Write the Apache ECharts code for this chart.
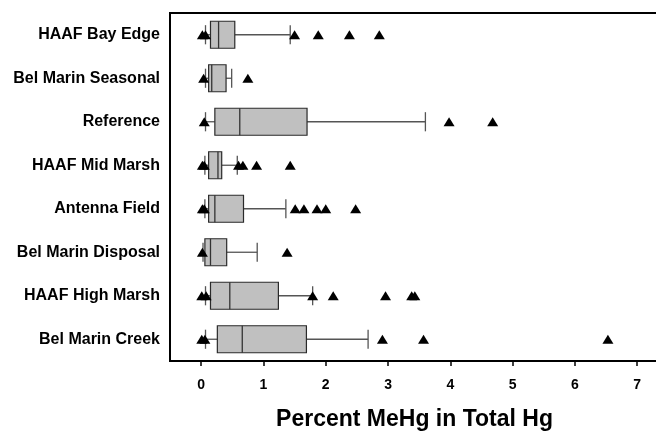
<!DOCTYPE html>
<html>
<head>
<meta charset="utf-8">
<script src="https://cdn.jsdelivr.net/npm/echarts@6/dist/echarts.min.js"></script>
<style>
  html, body { margin: 0; padding: 0; background: #fff; }
  #chart { width: 656px; height: 431px; }
</style>
</head>
<body>
<div id="chart"></div>
<script>
// Sites, top to bottom
const categories = [
  'HAAF Bay Edge', 'Bel Marin Seasonal', 'Reference', 'HAAF Mid Marsh',
  'Antenna Field', 'Bel Marin Disposal', 'HAAF High Marsh', 'Bel Marin Creek'
];

// Box statistics per site: [lower whisker, Q1, median, Q3, upper whisker]
const boxStats = [
  [0.07, 0.15, 0.28, 0.54, 1.43],
  [0.07, 0.12, 0.17, 0.40, 0.49],
  [0.07, 0.22, 0.62, 1.70, 3.60],
  [0.06, 0.12, 0.27, 0.33, 0.58],
  [0.06, 0.12, 0.22, 0.68, 1.36],
  [0.03, 0.06, 0.15, 0.41, 0.90],
  [0.07, 0.15, 0.46, 1.24, 1.79],
  [0.07, 0.26, 0.66, 1.69, 2.68]
];

// Points beyond the whiskers, per site
const outliers = [
  [0.02, 0.07, 1.50, 1.88, 2.38, 2.86],
  [0.04, 0.75],
  [0.05, 3.98, 4.68],
  [0.02, 0.05, 0.60, 0.67, 0.89, 1.43],
  [0.02, 0.05, 1.51, 1.65, 1.86, 2.00, 2.48],
  [0.02, 1.38],
  [0.01, 0.08, 1.79, 2.12, 2.96, 3.38, 3.43],
  [0.01, 0.06, 2.91, 3.57, 6.53]
];

const xTicks = [0, 1, 2, 3, 4, 5, 6, 7];

const boxData = boxStats.map((s, i) => [i].concat(s));
const outlierData = [];
outliers.forEach((vals, i) => vals.forEach(v => outlierData.push([v, i])));

function renderBox(params, api) {
  const cat = api.value(0);
  const low = api.coord([api.value(1), cat]);
  const q1 = api.coord([api.value(2), cat]);
  const med = api.coord([api.value(3), cat]);
  const q3 = api.coord([api.value(4), cat]);
  const high = api.coord([api.value(5), cat]);
  const band = api.size([0, 1])[1];
  const boxH = band * 0.62;
  const capH = band * 0.44;
  const y = low[1];
  const whisker = { stroke: '#555', lineWidth: 1.3 };
  return {
    type: 'group',
    children: [
      { type: 'line', shape: { x1: low[0], y1: y, x2: q1[0], y2: y }, style: whisker },
      { type: 'line', shape: { x1: q3[0], y1: y, x2: high[0], y2: y }, style: whisker },
      { type: 'line', shape: { x1: low[0], y1: y - capH / 2, x2: low[0], y2: y + capH / 2 }, style: whisker },
      { type: 'line', shape: { x1: high[0], y1: y - capH / 2, x2: high[0], y2: y + capH / 2 }, style: whisker },
      { type: 'rect', shape: { x: q1[0], y: y - boxH / 2, width: q3[0] - q1[0], height: boxH },
        style: { fill: '#c0c0c0', stroke: '#2a2a2a', lineWidth: 1.2 } },
      { type: 'line', shape: { x1: med[0], y1: y - boxH / 2, x2: med[0], y2: y + boxH / 2 },
        style: { stroke: '#333', lineWidth: 1.3 } }
    ]
  };
}

const chart = echarts.init(document.getElementById('chart'), null, { renderer: 'canvas' });
chart.setOption({
  animation: false,
  backgroundColor: '#fff',
  grid: {
    left: 170, top: 13, bottom: 70, right: -3,
    outerBoundsMode: 'none',
    containLabel: false,
    show: true, borderColor: '#000', borderWidth: 2, backgroundColor: 'transparent'
  },
  xAxis: {
    type: 'value',
    min: -0.5,
    max: 7.35,
    name: 'Percent MeHg in Total Hg',
    nameLocation: 'middle',
    nameGap: 47,
    nameTextStyle: { fontFamily: 'Liberation Sans', fontWeight: 'bold', fontSize: 23, color: '#000' },
    axisLine: { show: true, onZero: false, lineStyle: { color: '#000', width: 2 } },
    axisTick: { show: true, customValues: xTicks, length: 5, lineStyle: { color: '#000', width: 1.5 } },
    axisLabel: {
      customValues: xTicks, margin: 17,
      fontFamily: 'Liberation Sans', fontWeight: 'bold', fontSize: 14, color: '#000'
    },
    splitLine: { show: false }
  },
  yAxis: {
    type: 'category',
    data: categories,
    inverse: true,
    axisLine: { show: true, onZero: false, lineStyle: { color: '#000', width: 2 } },
    axisTick: { show: false },
    axisLabel: {
      margin: 10,
      fontFamily: 'Liberation Sans', fontWeight: 'bold', fontSize: 16, color: '#000'
    },
    splitLine: { show: false }
  },
  series: [
    {
      type: 'custom',
      renderItem: renderBox,
      data: boxData,
      encode: { x: [1, 2, 3, 4, 5], y: 0 },
      z: 2
    },
    {
      type: 'scatter',
      data: outlierData,
      symbol: 'triangle',
      symbolSize: [11, 9],
      itemStyle: { color: '#000', opacity: 1 },
      z: 3
    }
  ]
});
</script>
</body>
</html>
